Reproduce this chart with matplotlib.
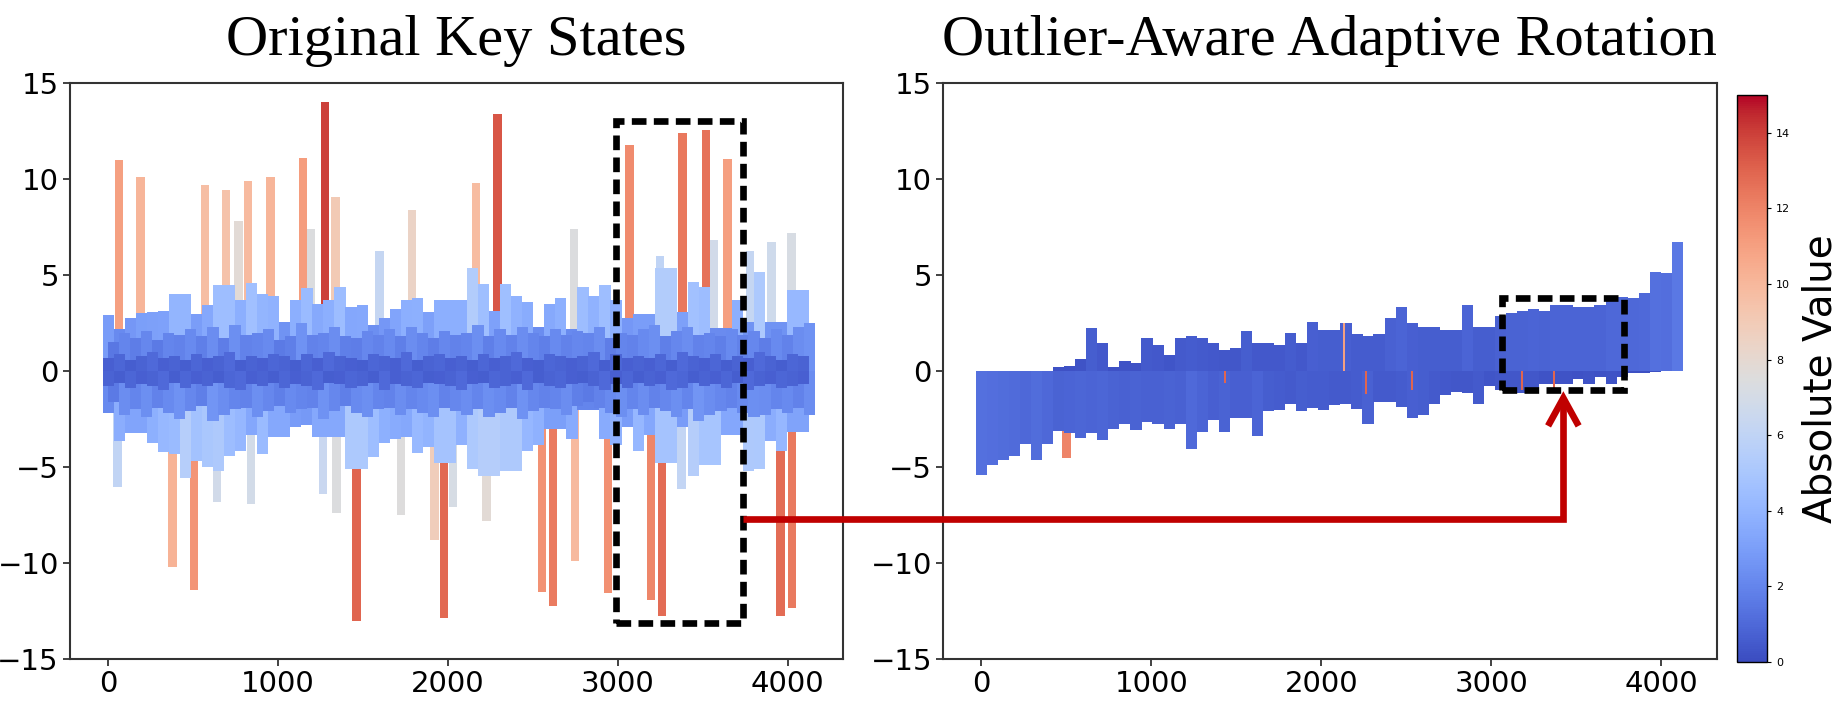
import numpy as np
import matplotlib
matplotlib.use('Agg')
import matplotlib.pyplot as plt
from matplotlib.colors import Normalize
from matplotlib.cm import ScalarMappable
from matplotlib.patches import Rectangle, FancyArrowPatch, ArrowStyle
from matplotlib.path import Path

n_groups = 64

# --- Original Key States: dense blue band (max / min per group) ---
orig_outer_hi = [2.9, 2.2, 2.75, 3.0, 3.05, 3.15, 4.0, 4.0, 2.95, 3.45, 4.5, 4.5, 3.7, 4.6, 4.0, 3.9,
                 2.55, 3.7, 4.3, 3.5, 3.7, 4.4, 3.35, 3.45, 2.4, 2.75, 3.25, 3.7, 3.8, 3.05, 3.7, 3.7,
                 3.7, 5.35, 4.55, 3.15, 4.55, 3.9, 3.6, 2.3, 3.5, 3.8, 2.2, 4.4, 3.9, 4.5, 3.7, 2.75,
                 2.95, 2.95, 5.35, 5.35, 3.05, 4.65, 4.4, 2.25, 2.25, 3.7, 2.55, 5.15, 2.55, 2.55, 4.2, 4.2]
orig_outer_lo = [-2.2, -3.65, -3.25, -3.25, -3.75, -4.2, -4.3, -5.55, -4.7, -5.0, -5.2, -4.4, -4.15, -3.35, -4.3, -3.45,
                 -3.45, -2.9, -2.8, -3.45, -3.45, -3.45, -5.1, -5.1, -4.5, -3.75, -3.55, -3.45, -4.25, -3.95, -4.8, -4.8,
                 -3.85, -5.1, -5.45, -5.45, -5.2, -5.2, -4.15, -3.85, -3.0, -3.0, -3.55, -2.05, -2.05, -3.55, -3.85, -2.9,
                 -4.15, -3.35, -4.8, -4.8, -2.9, -5.45, -4.9, -4.9, -3.35, -3.35, -5.2, -5.1, -3.65, -4.15, -3.2, -3.2]
orig_mid_hi = [1.5, 2.0, 1.7, 2.1, 1.6, 2.0, 1.9, 2.2, 1.8, 2.3, 1.7, 2.4, 1.9, 2.0, 2.2, 1.6,
               1.8, 2.5, 1.9, 2.0, 2.3, 1.8, 1.7, 2.1, 1.9, 2.2, 1.8, 2.3, 2.0, 1.7, 2.1, 1.9,
               2.0, 2.4, 1.8, 2.2, 1.9, 2.3, 2.0, 1.8, 2.2, 1.9, 2.1, 2.0, 2.3, 1.7, 2.0, 1.9,
               2.2, 2.4, 1.8, 2.1, 2.3, 1.9, 2.0, 1.8, 2.2, 1.9, 2.1, 1.7, 2.2, 1.9, 2.3, 2.5]
orig_mid_lo = [-1.6, -2.3, -2.0, -2.4, -1.9, -2.2, -2.5, -2.1, -1.8, -2.6, -2.3, -2.0, -1.9, -2.4, -2.1, -1.8,
               -2.2, -2.0, -1.9, -2.5, -2.1, -1.8, -2.2, -2.4, -2.0, -1.9, -2.3, -2.0, -2.2, -2.4, -1.9, -2.1,
               -2.3, -2.0, -2.4, -2.2, -1.9, -2.5, -2.1, -1.9, -2.0, -2.3, -1.8, -1.6, -1.9, -2.2, -2.4, -2.0,
               -2.3, -1.9, -2.1, -2.4, -2.0, -2.6, -2.3, -2.1, -1.9, -2.2, -2.4, -2.3, -2.0, -2.2, -1.9, -2.3]
orig_core_hi = [0.7, 0.9, 0.6, 0.8, 1.0, 0.7, 0.8, 0.6, 0.9, 0.7, 0.8, 1.0, 0.6, 0.8, 0.7, 0.9,
                0.8, 0.6, 0.9, 0.7, 1.0, 0.8, 0.7, 0.6, 0.9, 0.8, 0.7, 1.0, 0.6, 0.8, 0.9, 0.7,
                0.8, 0.6, 0.9, 0.7, 0.8, 1.0, 0.7, 0.6, 0.9, 0.8, 0.7, 0.8, 1.0, 0.6, 0.9, 0.7,
                0.8, 0.7, 0.9, 0.6, 1.0, 0.8, 0.7, 0.9, 0.6, 0.8, 0.7, 1.0, 0.8, 0.6, 0.9, 0.8]
orig_core_lo = [-0.8, -0.6, -0.9, -0.7, -0.8, -1.0, -0.6, -0.9, -0.7, -0.8, -0.6, -0.9, -1.0, -0.7, -0.8, -0.6,
                -0.9, -0.7, -0.8, -1.0, -0.6, -0.7, -0.9, -0.8, -0.6, -1.0, -0.7, -0.8, -0.9, -0.6, -0.7, -0.8,
                -1.0, -0.7, -0.6, -0.9, -0.8, -0.7, -1.0, -0.6, -0.8, -0.9, -0.7, -0.6, -0.8, -1.0, -0.7, -0.9,
                -0.6, -0.8, -0.7, -1.0, -0.9, -0.6, -0.8, -0.7, -0.9, -0.6, -1.0, -0.8, -0.7, -0.9, -0.8, -0.7]

# outlier channels of the original keys
orig_spike_ch = [65, 190, 569, 694, 767, 824, 957, 1147, 1194, 1275, 1337, 1598, 1788,
                 2165, 2292, 2743, 3069, 3247, 3382, 3520, 3567, 3645, 3777, 3904, 4022,
                 55, 380, 506, 641, 841, 1265, 1343, 1461, 1724, 1922, 1976, 2029,
                 2227, 2553, 2618, 2749, 2941, 3194, 3259, 3375, 3959, 4026]
orig_spike_val = [11.0, 10.1, 9.7, 9.45, 7.8, 9.9, 10.1, 11.1, 7.4, 14.0, 9.05, 6.25, 8.4,
                  9.8, 13.4, 7.4, 11.75, 6.0, 12.4, 12.55, 6.8, 11.05, 6.25, 6.7, 7.2,
                  -6.05, -10.2, -11.4, -6.8, -6.9, -6.4, -7.4, -13.0, -7.5, -8.8, -12.85, -7.1,
                  -7.8, -11.5, -12.25, -9.9, -11.55, -11.95, -12.75, -6.15, -12.75, -12.35]

# --- Outlier-Aware Adaptive Rotation: band (max / min per group) ---
rot_hi = [0, 0, 0, 0, 0, 0, 0, 0.2, 0.25, 0.65, 2.25, 1.45, 0.2, 0.5, 0.4, 1.7,
          1.35, 0.85, 1.7, 1.8, 1.7, 1.45, 1.1, 1.2, 2.1, 1.45, 1.45, 1.35, 2.0, 1.45, 2.55, 2.15,
          2.15, 2.5, 1.95, 1.8, 1.95, 2.75, 3.35, 2.5, 2.3, 2.3, 2.15, 2.15, 3.45, 2.3, 2.3, 2.85,
          3.0, 3.15, 3.25, 3.15, 3.45, 3.45, 3.35, 3.35, 3.45, 3.85, 3.85, 3.8, 4.05, 5.15, 5.1, 6.7]
rot_lo = [-5.4, -4.9, -4.65, -4.45, -3.8, -4.65, -3.8, -3.1, -3.25, -3.5, -3.25, -3.6, -3.0, -2.75, -3.05, -2.65,
          -2.75, -3.0, -2.75, -4.05, -3.2, -2.55, -3.15, -2.45, -2.45, -3.4, -2.1, -2.05, -1.7, -2.1, -1.95, -2.05,
          -1.75, -1.7, -2.0, -2.75, -1.6, -1.6, -1.85, -2.45, -2.3, -1.7, -1.25, -1.1, -1.15, -1.7, -0.8, -1.0,
          -1.0, -1.15, -1.1, -0.65, -0.65, -0.65, -0.4, -0.65, -0.3, -0.65, -0.3, -0.1, -0.1, -0.05, 0, 0]
rot_spike_ch = [500, 2135, 1435, 2265, 2533, 3181, 3370]
rot_spike_val = [-4.55, 2.5, -0.6, -1.2, -1.0, -1.0, -1.1]
rot_spike_abs = [12.0, 11.0, 13.0, 13.0, 13.0, 13.0, 13.0]

cmap = plt.get_cmap('coolwarm')
norm = Normalize(vmin=0, vmax=15)

fig = plt.figure(figsize=(18.4, 7.05), dpi=100)
ax1 = fig.add_axes([0.0380, 0.0652, 0.4201, 0.8170])
ax2 = fig.add_axes([0.5125, 0.0652, 0.4204, 0.8170])
cax = fig.add_axes([0.9440, 0.0610, 0.0163, 0.8043])

ch = np.arange(n_groups) * 65
gw = 66


def abs_bars(ax, x, vals, width):
    vals = np.asarray(vals, dtype=float)
    ax.bar(x, vals, width=width, color=cmap(norm(np.abs(vals))), linewidth=0)


# left panel: outliers first, band on top
abs_bars(ax1, orig_spike_ch, orig_spike_val, 50)
abs_bars(ax1, ch, orig_outer_hi, gw)
abs_bars(ax1, ch, orig_outer_lo, gw)
abs_bars(ax1, ch + 32, orig_mid_hi, gw)
abs_bars(ax1, ch + 32, orig_mid_lo, gw)
abs_bars(ax1, ch, orig_core_hi, gw)
abs_bars(ax1, ch, orig_core_lo, gw)

# right panel
ax2.bar(rot_spike_ch[0], rot_spike_val[0], width=50, color=cmap(norm(rot_spike_abs[0])), linewidth=0)
for vals in (rot_hi, rot_lo):
    vals = np.asarray(vals, dtype=float)
    ax2.bar(ch, vals, width=gw, color=cmap(0.01 + 0.014 * np.abs(vals)), linewidth=0)
ax2.bar(rot_spike_ch[1:], rot_spike_val[1:], width=12,
        color=cmap(norm(np.array(rot_spike_abs[1:]))), linewidth=0)

for ax in (ax1, ax2):
    ax.set_xlim(-225, 4325)
    ax.set_ylim(-15, 15)
    ax.set_xticks([0, 1000, 2000, 3000, 4000])
    ax.set_yticks([-15, -10, -5, 0, 5, 10, 15])
    ax.tick_params(labelsize=21, length=5, width=1.3, color='#333333', pad=3)
    for sp in ax.spines.values():
        sp.set_color('#333333')
        sp.set_linewidth(1.5)

title_font = dict(family=['Liberation Serif', 'DejaVu Serif'], fontsize=42)
ax1.set_title('Original Key States', pad=20, **title_font)
ax2.set_title('Outlier-Aware Adaptive Rotation', pad=20, **title_font)

cb = fig.colorbar(ScalarMappable(norm=norm, cmap=cmap), cax=cax)
cb.set_ticks([0, 2, 4, 6, 8, 10, 12, 14])
cb.ax.tick_params(labelsize=8, length=3, width=0.8)
cb.outline.set_linewidth(1.0)
cb.set_label('Absolute Value', fontsize=28, labelpad=8)

# dashed highlight boxes
ax1.add_patch(Rectangle((2990, -13.1), 745, 26.1, fill=False, ec='black', lw=4.8,
                        ls=(0, (2.2, 1.1)), zorder=5, clip_on=False))
ax2.add_patch(Rectangle((3065, -1.0), 717, 4.8, fill=False, ec='black', lw=4.8,
                        ls=(0, (2.2, 1.1)), zorder=5, clip_on=False))

# elbow arrow from left box to right box
to_fig = fig.transFigure.inverted()
p0 = to_fig.transform(ax1.transData.transform((3735, -7.7)))
p1 = to_fig.transform(ax2.transData.transform((3424, -7.7)))
p2 = to_fig.transform(ax2.transData.transform((3424, -1.05)))
arrow = FancyArrowPatch(path=Path([p0, p1, p2]), transform=fig.transFigure,
                        arrowstyle=ArrowStyle('->', head_length=2.0, head_width=1.1),
                        mutation_scale=10, color='#c00000', lw=4.8,
                        joinstyle='miter', capstyle='butt')
fig.add_artist(arrow)

fig.savefig('out.png', dpi=100)
